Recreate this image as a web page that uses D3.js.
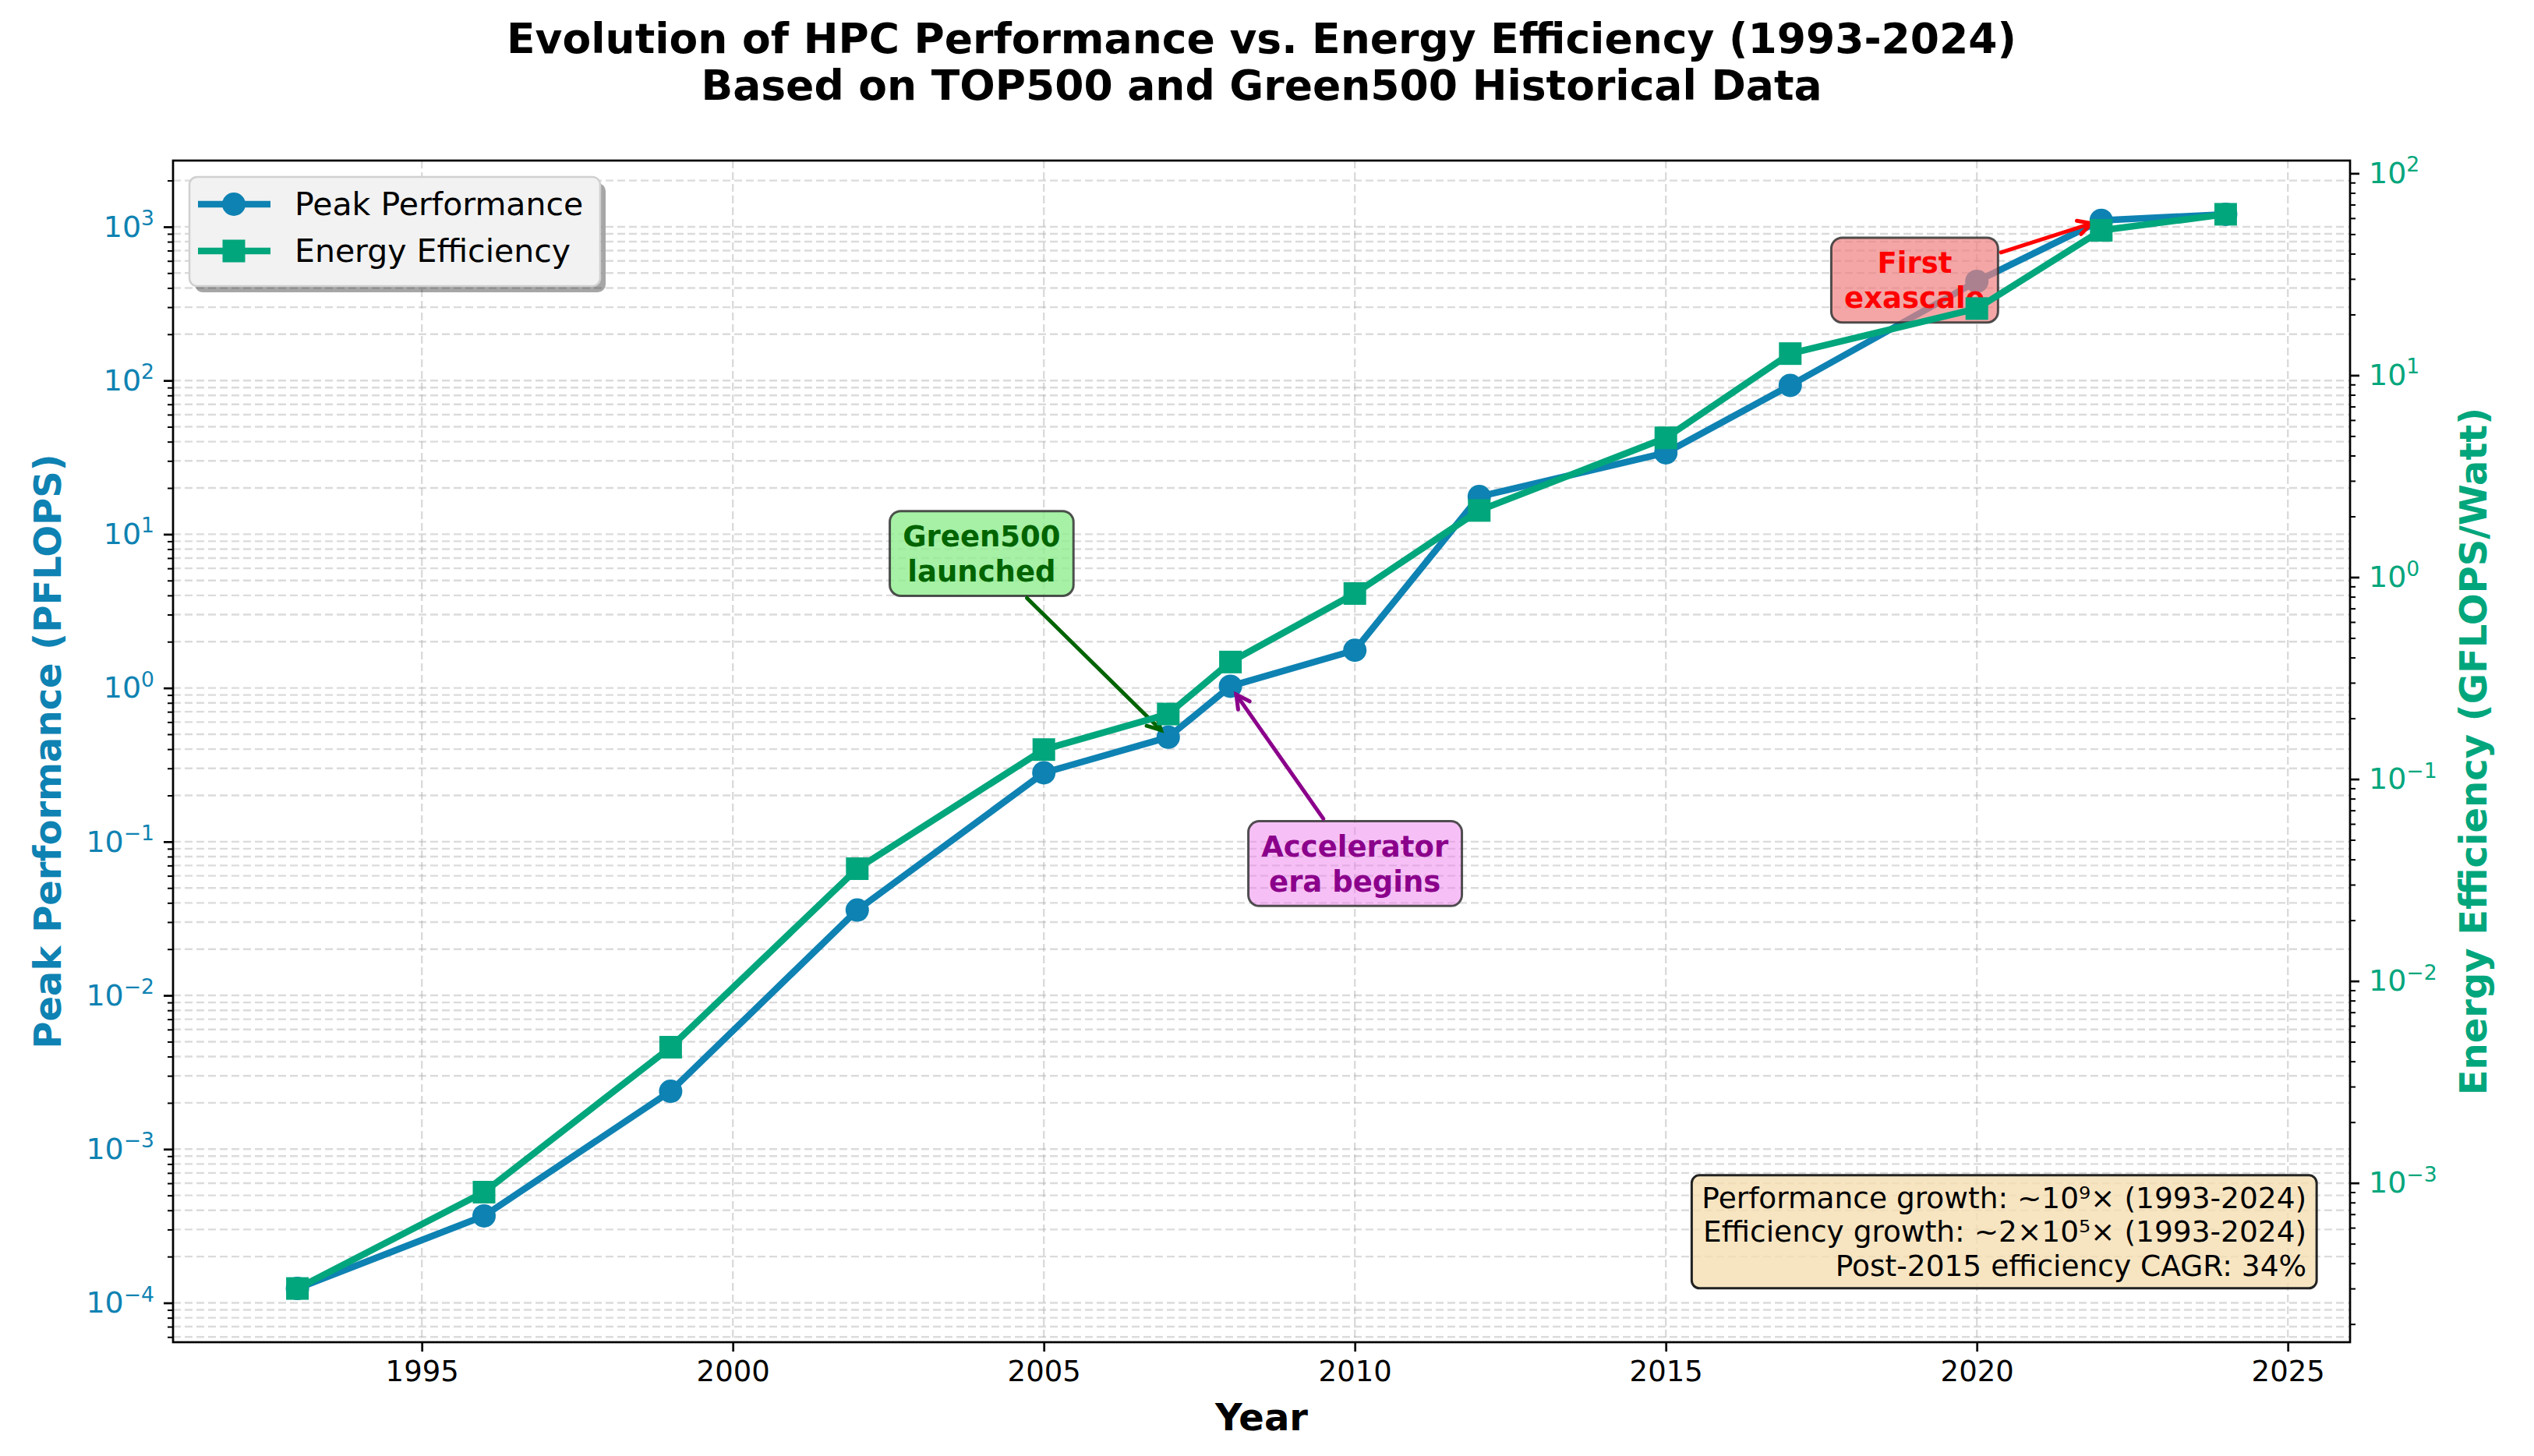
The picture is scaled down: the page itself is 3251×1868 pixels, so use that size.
<!DOCTYPE html>
<html>
<head>
<meta charset="utf-8">
<script src="https://cdn.jsdelivr.net/npm/d3@7"></script>
<style>
  body { margin: 0; background: #fff; }
  svg { display: block; }
  text { font-family: "DejaVu Sans", sans-serif; }
</style>
</head>
<body>
<svg id="chart" width="3251" height="1868"></svg>
<script>
const years = [1993, 1996, 1999, 2002, 2005, 2007, 2008, 2010, 2012, 2015, 2017, 2020, 2022, 2024];
const peakPerf = [0.000124, 0.000368, 0.00238, 0.0359, 0.2806, 0.4782, 1.026, 1.759, 17.59, 33.86, 93.01, 442.0, 1102, 1206];
const energyEff = [0.0003, 0.0009, 0.0047, 0.036, 0.14, 0.21, 0.38, 0.83, 2.14, 4.9, 12.8, 21.4, 52.2, 62.7];
const xTicks = [1995, 2000, 2005, 2010, 2015, 2020, 2025];
const xLimits = [1991, 2026];
const statsLines = [
  "Performance growth: ~10⁹× (1993-2024)",
  "Efficiency growth: ~2×10⁵× (1993-2024)",
  "Post-2015 efficiency CAGR: 34%"
];
const notes = [
  { lines: ["Green500", "launched"], x: 2007, y: 0.4782, tx: 2004, ty: 7.5, color: "#006400", fill: "#90EE90", alpha: 0.8 },
  { lines: ["Accelerator", "era begins"], x: 2008, y: 1.026, tx: 2010, ty: 0.072, color: "#8B008B", fill: "#EE82EE", alpha: 0.5 },
  { lines: ["First", "exascale"], x: 2022, y: 1102, tx: 2019, ty: 450, color: "#FF0000", fill: "#F08080", alpha: 0.7 }
];

const BLUE = "#0E82B2";
const GREEN = "#02A67C";

const svg = d3.select("#chart");
const plot = { left: 222, right: 3015, top: 206, bottom: 1722 };

// marge 5% en échelle log, comme matplotlib
function logPad(values, frac) {
  const lo = Math.log10(d3.min(values)), hi = Math.log10(d3.max(values));
  const m = (hi - lo) * frac;
  return [Math.pow(10, lo - m), Math.pow(10, hi + m)];
}

const x = d3.scaleLinear().domain(xLimits).range([plot.left, plot.right]);
const yL = d3.scaleLog().domain(logPad(peakPerf, 0.05)).range([plot.bottom, plot.top]);
const yR = d3.scaleLog().domain(logPad(energyEff, 0.05)).range([plot.bottom, plot.top]);

function decadeTicks(scale) {
  const [lo, hi] = scale.domain();
  const out = [];
  for (let e = Math.floor(Math.log10(lo)); e <= Math.ceil(Math.log10(hi)); e++) {
    const v = Math.pow(10, e);
    if (v >= lo && v <= hi) out.push(v);
  }
  return out;
}
function minorTicks(scale) {
  const [lo, hi] = scale.domain();
  const out = [];
  for (let e = Math.floor(Math.log10(lo)); e <= Math.ceil(Math.log10(hi)); e++) {
    for (let k = 2; k <= 9; k++) {
      const v = k * Math.pow(10, e);
      if (v >= lo && v <= hi) out.push(v);
    }
  }
  return out;
}

// --- grid ---
const grid = svg.append("g").attr("stroke", "#b0b0b0").attr("stroke-opacity", 0.45)
  .attr("stroke-width", 2.4).attr("stroke-dasharray", "10,5");
grid.selectAll(".gx").data(xTicks).join("line")
  .attr("x1", d => x(d)).attr("x2", d => x(d)).attr("y1", plot.top).attr("y2", plot.bottom);
grid.selectAll(".gy").data(decadeTicks(yL).concat(minorTicks(yL))).join("line")
  .attr("x1", plot.left).attr("x2", plot.right).attr("y1", d => yL(d)).attr("y2", d => yL(d));

// --- axes ---
function supLabel(sel, color) {
  sel.selectAll(".tick text").each(function(d) {
    const t = d3.select(this).text(null).attr("fill", color);
    const e = Math.round(Math.log10(d));
    t.append("tspan").text("10");
    t.append("tspan").attr("font-size", "0.7em").attr("dy", "-0.55em")
      .text(e < 0 ? "\u2212" + (-e) : String(e));
  });
}

const xAxis = svg.append("g").attr("transform", `translate(0,${plot.bottom})`)
  .call(d3.axisBottom(x).tickValues(xTicks).tickFormat(d3.format("d")).tickSize(12).tickPadding(12));
xAxis.selectAll(".tick text").attr("font-size", 37).attr("fill", "#000").attr("font-family", "DejaVu Sans");

const yAxisL = svg.append("g").attr("transform", `translate(${plot.left},0)`)
  .call(d3.axisLeft(yL).tickValues(decadeTicks(yL)).tickSize(12).tickPadding(12));
yAxisL.selectAll(".tick text").attr("font-size", 38).attr("font-family", "DejaVu Sans");
supLabel(yAxisL, BLUE);
svg.append("g").attr("transform", `translate(${plot.left},0)`)
  .call(d3.axisLeft(yL).tickValues(minorTicks(yL)).tickSize(7).tickFormat(""))
  .selectAll("line").attr("stroke-width", 2);

const yAxisR = svg.append("g").attr("transform", `translate(${plot.right},0)`)
  .call(d3.axisRight(yR).tickValues(decadeTicks(yR)).tickSize(12).tickPadding(12));
yAxisR.selectAll(".tick text").attr("font-size", 38).attr("font-family", "DejaVu Sans");
supLabel(yAxisR, GREEN);
svg.append("g").attr("transform", `translate(${plot.right},0)`)
  .call(d3.axisRight(yR).tickValues(minorTicks(yR)).tickSize(7).tickFormat(""))
  .selectAll("line").attr("stroke-width", 2);

svg.selectAll(".domain").remove();
svg.selectAll(".tick line").attr("stroke", "#000").filter(function() {
  return !d3.select(this).attr("stroke-width");
}).attr("stroke-width", 2.7);

// --- peak performance (ax1) ---
const lineL = d3.line().x((d, i) => x(years[i])).y(d => yL(d));
svg.append("path").datum(peakPerf).attr("d", lineL)
  .attr("fill", "none").attr("stroke", BLUE).attr("stroke-width", 8.5).attr("stroke-linejoin", "round");
svg.append("g").selectAll("circle").data(peakPerf).join("circle")
  .attr("cx", (d, i) => x(years[i])).attr("cy", d => yL(d)).attr("r", 15).attr("fill", BLUE);

// --- annotations ---
const NOTE_FS = 37;
notes.forEach(n => {
  const g = svg.append("g");
  const cx = x(n.tx), cy = yL(n.ty);
  const lh = NOTE_FS * 1.2;
  const box = g.append("rect");
  const txt = g.append("text").attr("text-anchor", "middle").attr("font-weight", "bold")
    .attr("font-size", NOTE_FS).attr("fill", n.color);
  n.lines.forEach((s, i) => {
    txt.append("tspan").attr("x", cx)
      .attr("y", cy + (i - (n.lines.length - 1) / 2) * lh + NOTE_FS * 0.36).text(s);
  });
  const bb = txt.node().getBBox();
  const pad = NOTE_FS * 0.45;
  const bx = bb.x - pad, by = cy - n.lines.length * lh / 2 - pad * 0.6;
  const bw = bb.width + 2 * pad, bh = n.lines.length * lh + pad * 1.2;
  box.attr("x", bx).attr("y", by).attr("width", bw).attr("height", bh).attr("rx", 14)
    .attr("fill", n.fill).attr("fill-opacity", n.alpha)
    .attr("stroke", "#333").attr("stroke-opacity", 0.85).attr("stroke-width", 3);

  // flèche : du bord de la boîte vers le point
  const px = x(n.x), py = yL(n.y);
  const dx = px - cx, dy = py - cy;
  const tEdge = Math.min(Math.abs((bw / 2) / dx), Math.abs((bh / 2) / dy));
  const sx = cx + dx * tEdge, sy = cy + dy * tEdge;
  const len = Math.hypot(dx, dy);
  const ux = dx / len, uy = dy / len;
  const ex = px - ux * 13, ey = py - uy * 13;
  const aw = svg.append("g").attr("stroke", n.color).attr("stroke-width", 5)
    .attr("fill", "none").attr("stroke-linecap", "round");
  aw.append("line").attr("x1", sx + ux * 4).attr("y1", sy + uy * 4).attr("x2", ex).attr("y2", ey);
  const hl = 17, hw = 9;
  aw.append("path").attr("d",
    `M${ex - ux * hl - uy * hw},${ey - uy * hl + ux * hw} L${ex},${ey} L${ex - ux * hl + uy * hw},${ey - uy * hl - ux * hw}`)
    .attr("stroke-linejoin", "miter");
});

// --- energy efficiency (ax2) ---
const lineR = d3.line().x((d, i) => x(years[i])).y(d => yR(d));
svg.append("path").datum(energyEff).attr("d", lineR)
  .attr("fill", "none").attr("stroke", GREEN).attr("stroke-width", 8.5).attr("stroke-linejoin", "round");
const SQ = 29;
svg.append("g").selectAll("rect").data(energyEff).join("rect")
  .attr("x", (d, i) => x(years[i]) - SQ / 2).attr("y", d => yR(d) - SQ / 2)
  .attr("width", SQ).attr("height", SQ).attr("fill", GREEN);

// --- stats box ---
const STAT_FS = 37.5;
const statG = svg.append("g");
const statBox = statG.append("rect");
const statX = plot.left + 0.98 * (plot.right - plot.left);
const statBottom = plot.bottom - 0.05 * (plot.bottom - plot.top);
const statTxt = statG.append("text").attr("text-anchor", "end").attr("font-size", STAT_FS).attr("fill", "#000");
statsLines.forEach((s, i) => {
  statTxt.append("tspan").attr("x", statX)
    .attr("y", statBottom - (statsLines.length - 1 - i) * STAT_FS * 1.16 - STAT_FS * 0.25).text(s);
});
const sb = statTxt.node().getBBox();
statBox.attr("x", sb.x - 13).attr("y", sb.y - 7).attr("width", sb.width + 26).attr("height", sb.height + 14)
  .attr("rx", 10).attr("fill", "#F5DEB3").attr("fill-opacity", 0.8)
  .attr("stroke", "#222").attr("stroke-width", 3);

// --- frame ---
svg.append("rect").attr("x", plot.left).attr("y", plot.top)
  .attr("width", plot.right - plot.left).attr("height", plot.bottom - plot.top)
  .attr("fill", "none").attr("stroke", "#000").attr("stroke-width", 2.7);

// --- legend ---
const leg = svg.append("g");
const legBox = { x: 243, y: 227, w: 527, h: 140 };
leg.append("rect").attr("x", legBox.x + 7).attr("y", legBox.y + 8).attr("width", legBox.w).attr("height", legBox.h)
  .attr("rx", 10).attr("fill", "#000").attr("fill-opacity", 0.35);
leg.append("rect").attr("x", legBox.x).attr("y", legBox.y).attr("width", legBox.w).attr("height", legBox.h)
  .attr("rx", 10).attr("fill", "#f2f2f2").attr("stroke", "#d0d0d0").attr("stroke-width", 2.5);
const legItems = [
  { label: "Peak Performance", color: BLUE, shape: "circle" },
  { label: "Energy Efficiency", color: GREEN, shape: "square" }
];
legItems.forEach((it, i) => {
  const cy = 262 + i * 60;
  leg.append("line").attr("x1", 254).attr("x2", 347).attr("y1", cy).attr("y2", cy)
    .attr("stroke", it.color).attr("stroke-width", 8.5);
  if (it.shape === "circle") {
    leg.append("circle").attr("cx", 300).attr("cy", cy).attr("r", 15).attr("fill", it.color);
  } else {
    leg.append("rect").attr("x", 300 - SQ / 2).attr("y", cy - SQ / 2).attr("width", SQ).attr("height", SQ).attr("fill", it.color);
  }
  leg.append("text").attr("x", 378).attr("y", cy + 14).attr("font-size", 41).attr("fill", "#000").text(it.label);
});

// --- titles & axis labels ---
const cxPlot = (plot.left + plot.right) / 2;
svg.append("text").attr("x", cxPlot).attr("y", 68).attr("text-anchor", "middle")
  .attr("font-size", 53.5).attr("font-weight", "bold").text("Evolution of HPC Performance vs. Energy Efficiency (1993-2024)");
svg.append("text").attr("x", cxPlot).attr("y", 128).attr("text-anchor", "middle")
  .attr("font-size", 53.5).attr("font-weight", "bold").text("Based on TOP500 and Green500 Historical Data");
svg.append("text").attr("x", cxPlot).attr("y", 1835).attr("text-anchor", "middle")
  .attr("font-size", 48).attr("font-weight", "bold").text("Year");
const cyPlot = (plot.top + plot.bottom) / 2;
svg.append("text").attr("transform", `translate(78,${cyPlot}) rotate(-90)`).attr("text-anchor", "middle")
  .attr("font-size", 48).attr("font-weight", "bold").attr("fill", BLUE).text("Peak Performance (PFLOPS)");
svg.append("text").attr("transform", `translate(3190,${cyPlot}) rotate(-90)`).attr("text-anchor", "middle")
  .attr("font-size", 48).attr("font-weight", "bold").attr("fill", GREEN).text("Energy Efficiency (GFLOPS/Watt)");
</script>
</body>
</html>
